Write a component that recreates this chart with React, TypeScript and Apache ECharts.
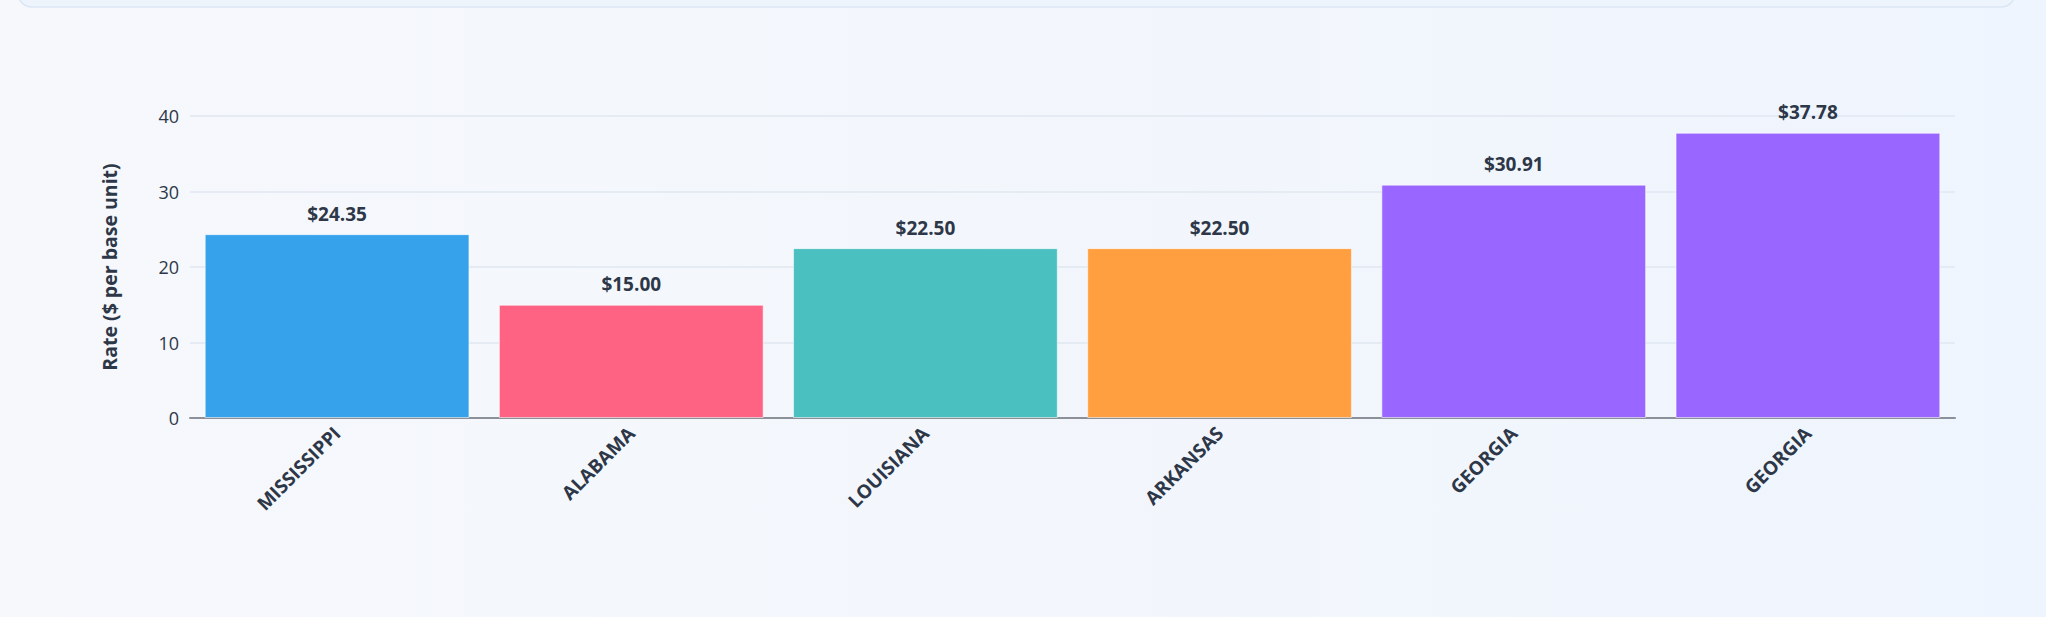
import React, { useEffect, useRef } from "react";
import * as echarts from "echarts";

const categories = ["MISSISSIPPI", "ALABAMA", "LOUISIANA", "ARKANSAS", "GEORGIA", "GEORGIA"];
const rates = [24.35, 15.0, 22.5, 22.5, 30.91, 37.78];
const barColors = ["#36A2EB", "#FF6384", "#4BC0C0", "#FF9F40", "#9966FF", "#9966FF"];
const yTicks = { min: 0, max: 40, interval: 10 };
const yAxisTitle = "Rate ($ per base unit)";

const FONT = "'Open Sans', 'Noto Sans', sans-serif";

export default function App() {
  const ref = useRef<HTMLDivElement>(null);
  useEffect(() => {
    if (!ref.current) return;
    const chart = echarts.init(ref.current, null, { renderer: "svg" });
    chart.setOption({
      animation: false,
      backgroundColor: "transparent",
      textStyle: { fontFamily: FONT },
      graphic: [
        {
          type: "rect",
          shape: { x: 18, y: -40, width: 1997, height: 47, r: 14 },
          style: { fill: "#eef4fc", stroke: "#dbe6f4", lineWidth: 1.5 },
          silent: true,
        },
      ],
      grid: { left: 190, right: 91, top: 116, bottom: 199, containLabel: false },
      xAxis: {
        type: "category",
        data: categories,
        axisLine: { show: true, lineStyle: { color: "#8b9099", width: 2 } },
        axisTick: { show: false },
        axisLabel: {
          rotate: 45,
          interval: 0,
          margin: 12,
          color: "#2d3748",
          fontWeight: "bold",
          fontSize: 19,
          fontFamily: FONT,
        },
      },
      yAxis: {
        type: "value",
        min: yTicks.min,
        max: yTicks.max,
        interval: yTicks.interval,
        name: yAxisTitle,
        nameLocation: "middle",
        nameGap: 71,
        nameTextStyle: { color: "#2d3748", fontWeight: "bold", fontSize: 19.5, fontFamily: FONT },
        axisLine: { show: false },
        axisTick: { show: false },
        axisLabel: { color: "#2d3748", fontSize: 18, margin: 11, fontFamily: FONT },
        splitLine: { lineStyle: { color: "#e1e7f0", width: 1.5 } },
      },
      series: [
        {
          type: "bar",
          data: rates.map((v, i) => ({
            value: v,
            itemStyle: { color: barColors[i], borderColor: "rgba(255,255,255,0.55)", borderWidth: 1 },
          })),
          barCategoryGap: "10%",
          label: {
            show: true,
            position: "top",
            distance: 11,
            color: "#2d3748",
            fontWeight: "bold",
            fontSize: 19,
            fontFamily: FONT,
            formatter: (p: any) => "$" + Number(p.value).toFixed(2),
          },
        },
      ],
    });
    return () => chart.dispose();
  }, []);
  return (
    <div
      style={{
        position: "fixed",
        left: 0,
        top: 0,
        width: 2046,
        height: 617,
        background: "linear-gradient(90deg, #f6f8fc 0%, #f2f6fc 60%, #eff5fe 100%)",
      }}
    >
      <div ref={ref} style={{ width: 2046, height: 617 }} />
    </div>
  );
}
